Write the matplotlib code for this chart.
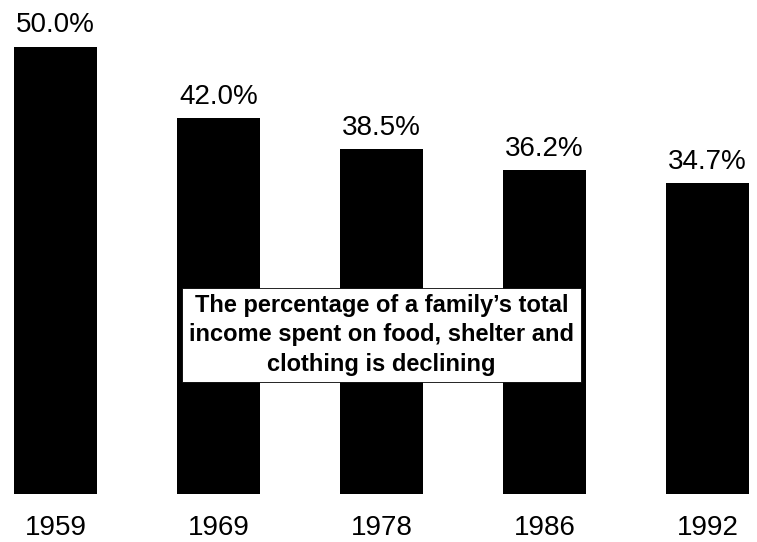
import matplotlib
matplotlib.use("Agg")
import matplotlib.pyplot as plt

years = ["1959", "1969", "1978", "1986", "1992"]
share = [50.0, 42.0, 38.5, 36.2, 34.7]
note = "The percentage of a family\u2019s total\nincome spent on food, shelter and\nclothing is declining"

plt.rcParams["font.family"] = ["Liberation Sans", "DejaVu Sans"]

W, H = 757, 542
fig = plt.figure(figsize=(W / 100, H / 100), dpi=100)
ax = fig.add_axes([0, 48 / H, 1, 1 - 48 / H])

x = list(range(len(years)))
bars = ax.bar(x, share, width=0.51, color="black")

for xi, v in zip(x, share):
    ax.annotate(f"{v:.1f}%", (xi, v), xytext=(0, 6), textcoords="offset points",
                ha="center", va="bottom", fontsize=20)

ax.set_xlim(-55.5 / 163, (W - 55.5) / 163)
ax.set_ylim(0, 494 / 8.95)
ax.set_xticks(x)
ax.set_xticklabels(years, fontsize=20)
ax.tick_params(axis="x", length=0, pad=15)
ax.set_yticks([])
for s in ax.spines.values():
    s.set_visible(False)

ax.text(2.0, (494 - 335) / 8.95, note, ha="center", va="center",
        fontsize=17, fontweight="bold", linespacing=1.35,
        bbox=dict(boxstyle="square,pad=0.28", fc="white", ec="black", lw=0.6))

fig.savefig("out.png", dpi=100)
